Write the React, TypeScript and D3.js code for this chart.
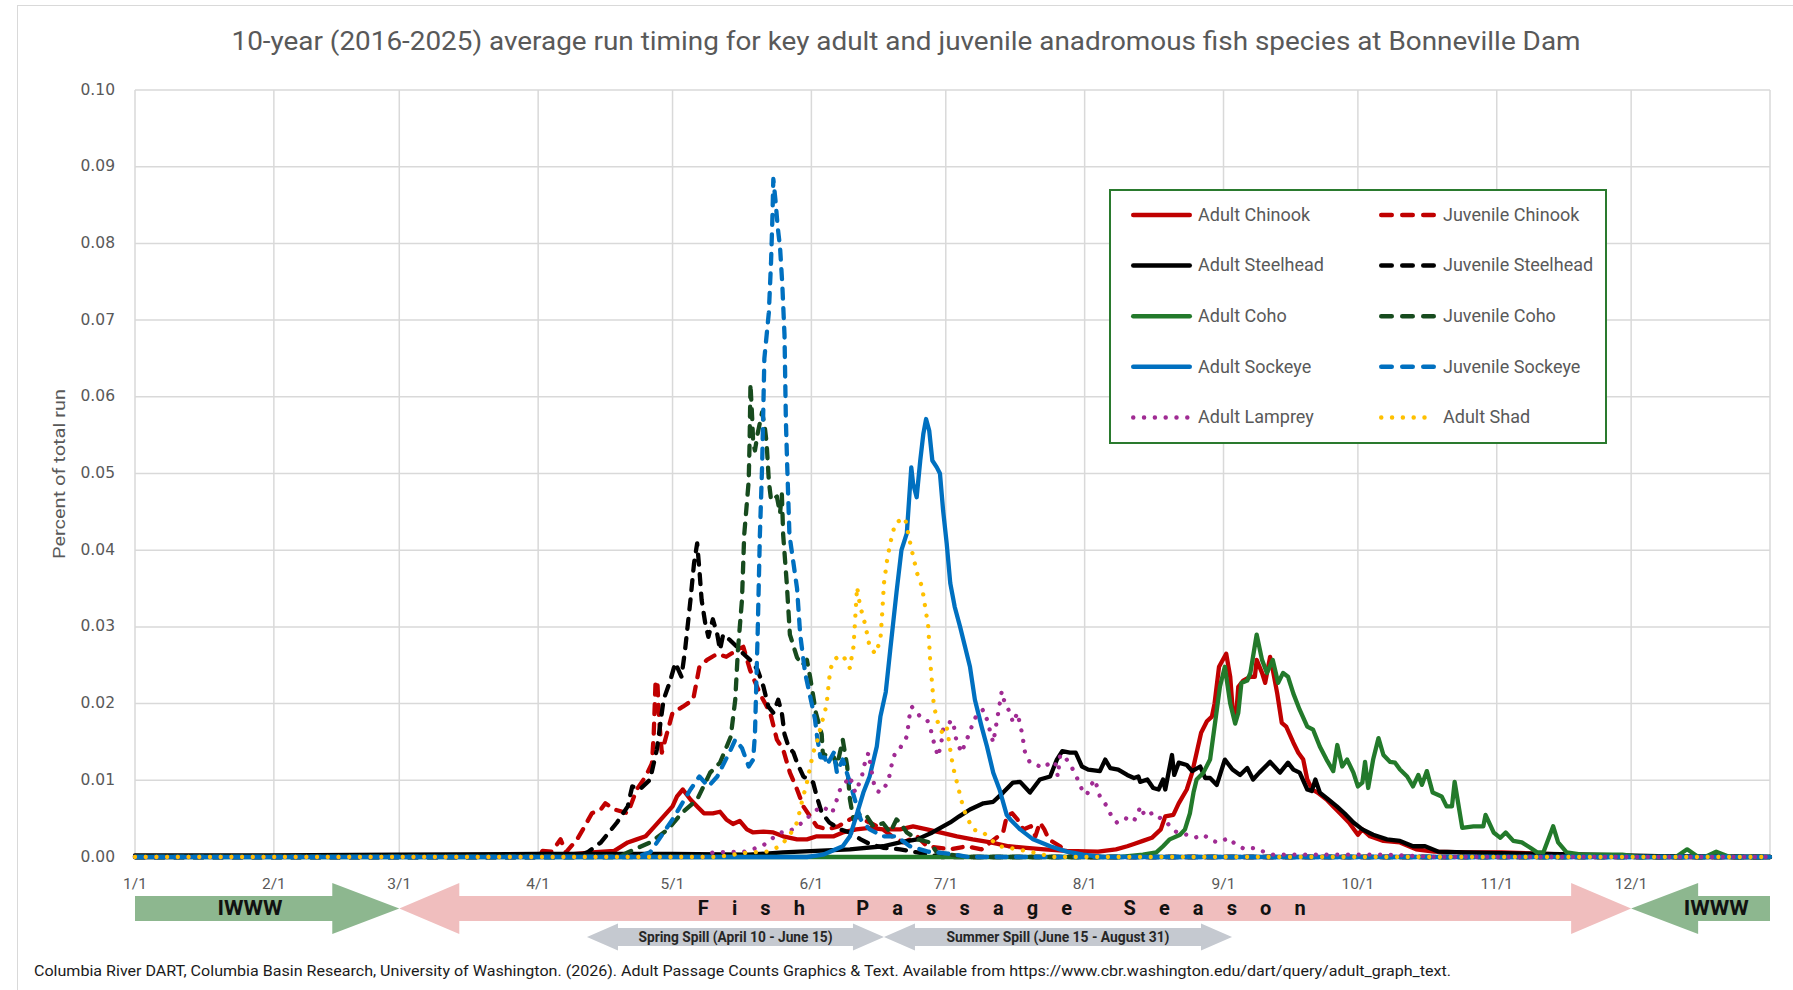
import React from 'react'
import * as d3 from 'd3'

// day-of-year positions of the month ticks (1/1 = day 0)
const monthDays = [0, 31, 59, 90, 120, 151, 181, 212, 243, 273, 304, 334]
const monthLabels = ['1/1', '2/1', '3/1', '4/1', '5/1', '6/1', '7/1', '8/1', '9/1', '10/1', '11/1', '12/1']
const yTicks = [0, 0.01, 0.02, 0.03, 0.04, 0.05, 0.06, 0.07, 0.08, 0.09, 0.1]

// [day of year, share of total run]
const adultChinook = [[0,0],[60,0.0001],[95,0.0002],[102,0.0006],[107,0.0008],[110,0.0019],[112,0.0023],[114,0.0027],[116,0.004],[118,0.0053],[120,0.0066],[121,0.0079],[122.3,0.0088],[124,0.0075],[125.5,0.0066],[127,0.0057],[129,0.0057],[130.6,0.0059],[132,0.0049],[133.5,0.0043],[135,0.0047],[136.6,0.0036],[138,0.0032],[140.3,0.0033],[142.5,0.0032],[144.7,0.0027],[147.8,0.0023],[150,0.0023],[152.2,0.0027],[156,0.0027],[158,0.0032],[161,0.0036],[164,0.0038],[167,0.0036],[170.8,0.0036],[173.7,0.004],[176.8,0.0036],[179.7,0.0032],[183.5,0.0027],[187,0.0023],[191,0.0019],[195,0.0014],[199,0.0012],[203,0.001],[208,0.0008],[215,0.0007],[219,0.001],[221.5,0.0014],[223,0.0017],[225,0.0021],[227,0.0025],[229,0.0036],[230,0.0053],[231.8,0.0055],[233,0.007],[234.8,0.0088],[236,0.011],[237,0.0136],[238,0.0162],[239.3,0.0177],[240.4,0.0183],[241,0.02],[242,0.0248],[243.6,0.0265],[244.5,0.0235],[245,0.0196],[245.8,0.0183],[246.3,0.0222],[247.4,0.023],[249,0.0235],[250,0.0235],[250.4,0.0257],[251.6,0.024],[252.3,0.0227],[253.4,0.0261],[254,0.0244],[255,0.0213],[256,0.0175],[257,0.017],[258.6,0.0149],[259.7,0.0136],[260.8,0.0127],[261.7,0.0101],[262.8,0.0088],[264,0.0084],[266,0.0075],[267.5,0.0066],[269,0.0057],[271,0.0045],[273,0.0029],[274,0.0036],[275.7,0.0027],[278.7,0.0021],[282.4,0.0019],[286,0.001],[290,0.0007],[297,0.0006],[305,0.0006],[320,0.0003],[340,0],[365,0]]
const juvenileChinook = [[0,0],[90,0],[91,0.0008],[93,0.0007],[95,0.0023],[96.2,0.0006],[98.7,0.0023],[100,0.0036],[102,0.0057],[104,0.0062],[105,0.007],[107,0.0062],[110,0.0057],[112,0.0088],[114,0.0105],[115.4,0.0122],[115.8,0.016],[116.2,0.0227],[116.6,0.023],[117,0.018],[117.6,0.0136],[118.7,0.016],[120,0.0188],[122.3,0.0196],[124.6,0.0205],[126,0.0248],[127.7,0.0257],[130,0.0265],[132,0.0261],[134.4,0.027],[135.8,0.0274],[137.3,0.0244],[139.5,0.0213],[141.8,0.0188],[143.3,0.0153],[144.7,0.014],[146.2,0.011],[147.8,0.0088],[149.2,0.0066],[150.7,0.0053],[152.2,0.004],[154.5,0.0036],[157,0.004],[159.6,0.0049],[161,0.0053],[164,0.0045],[167,0.0036],[169,0.0027],[171.5,0.0019],[174.6,0.0027],[176.8,0.0014],[182,0.001],[185.7,0.0014],[189,0.001],[193.8,0.0032],[194.6,0.0053],[195.8,0.0057],[197,0.0049],[198.3,0.0036],[200,0.004],[201,0.0027],[202,0.0045],[203,0.0036],[204,0.0023],[206.5,0.0014],[208,0.0007],[212,0],[365,0]]
const adultSteelhead = [[0,0.0002],[30,0.0002],[59,0.0003],[90,0.0004],[120,0.0004],[137,0.0003],[144.7,0.0006],[152,0.0008],[159.6,0.001],[167,0.0014],[170.8,0.0019],[174.6,0.0023],[178,0.0032],[182,0.0045],[184,0.0053],[186.4,0.0062],[189.4,0.007],[191.6,0.0072],[193.8,0.0084],[196,0.0097],[197.6,0.0098],[199.8,0.0084],[202,0.0101],[204.3,0.0105],[205.8,0.0127],[207,0.0138],[208.7,0.0136],[210,0.0136],[211.4,0.0118],[212.8,0.0114],[215.4,0.0112],[216.6,0.0127],[217.7,0.0116],[219.5,0.0114],[221.5,0.0107],[223,0.0103],[224,0.0105],[224.4,0.0098],[226,0.0101],[227.3,0.009],[228.5,0.0088],[229.5,0.0101],[230,0.0088],[231.5,0.0133],[232,0.0107],[233,0.0123],[234.8,0.012],[236,0.0112],[237.8,0.0118],[238.9,0.0103],[240,0.0103],[241.5,0.0094],[243.3,0.0127],[245,0.0114],[246.7,0.0107],[248.3,0.0116],[249.6,0.0101],[251,0.011],[253.4,0.0124],[255.6,0.011],[257.4,0.0123],[258.6,0.0114],[260,0.011],[261.7,0.0088],[262.7,0.0086],[263.5,0.0101],[264.5,0.0084],[266.4,0.0075],[268.3,0.0066],[270,0.0057],[272,0.0045],[274,0.0036],[276.4,0.0029],[279.5,0.0023],[282.4,0.0021],[285.3,0.0014],[288,0.0014],[291,0.0007],[297,0.0006],[305,0.0005],[315,0.0004],[325,0.0003],[340,0.0001],[365,0]]
const juvenileSteelhead = [[0,0],[98,0],[101,0.0006],[104,0.0019],[107.6,0.0045],[110,0.0066],[111,0.0092],[112.7,0.0088],[115,0.0101],[116.5,0.014],[118,0.0205],[119.5,0.023],[120.6,0.0253],[122,0.0235],[122.8,0.027],[124,0.0335],[124.8,0.0383],[125.5,0.0409],[126,0.0374],[126.5,0.0335],[127.3,0.0305],[128,0.0287],[129,0.031],[130,0.029],[130.6,0.027],[131.3,0.029],[132.8,0.0283],[134.4,0.0274],[135.8,0.0265],[137.3,0.0257],[139,0.0244],[140.3,0.0222],[141.4,0.0196],[142.5,0.0188],[143.6,0.0205],[144.4,0.0188],[145,0.016],[145.9,0.0144],[147,0.0136],[147.8,0.0123],[149.2,0.0105],[150.3,0.0101],[151.4,0.0097],[152.2,0.0079],[153.3,0.0058],[155,0.0045],[157.4,0.0036],[159.6,0.0032],[162,0.0023],[164,0.0017],[167,0.0012],[170.8,0.001],[174.6,0.0006],[180,0],[365,0]]
const adultCoho = [[0,0],[220,0],[225,0.0003],[228,0.0006],[229.5,0.0014],[231,0.0023],[233.3,0.0029],[234.4,0.0036],[235.5,0.0057],[236.3,0.0084],[237,0.0101],[238.5,0.011],[240,0.0127],[241,0.017],[242.2,0.0222],[243.3,0.0248],[244.5,0.02],[245.6,0.0174],[246.3,0.0188],[247,0.0227],[248.3,0.023],[249,0.024],[250.4,0.029],[251.6,0.0257],[252.7,0.024],[254,0.0257],[255.2,0.0227],[256.3,0.024],[257.4,0.0235],[258.6,0.0213],[260,0.0192],[261.7,0.017],[263,0.0166],[264.5,0.0144],[266,0.0127],[267.5,0.0112],[268.4,0.0146],[269.5,0.0118],[270.6,0.0127],[272,0.011],[273,0.0092],[274,0.0097],[274.6,0.0124],[275.3,0.009],[276.4,0.0127],[277.6,0.0155],[278.7,0.0133],[280.2,0.0124],[281.3,0.0123],[282.4,0.0114],[284,0.0105],[285.3,0.0092],[286.5,0.0107],[287.3,0.0094],[288.4,0.0112],[289.7,0.0084],[291.7,0.0079],[292.8,0.0066],[294,0.0066],[294.6,0.0098],[296.3,0.0038],[298.8,0.004],[301,0.004],[301.5,0.0055],[303.3,0.0032],[304.8,0.0025],[306,0.0032],[307.7,0.0021],[309.6,0.0019],[311.5,0.0012],[313,0.0006],[314.4,0.0006],[316.6,0.004],[317.7,0.0019],[319.6,0.0006],[323,0.0003],[332,0.0003],[336,0],[344,0],[346.5,0.001],[349,0],[350.5,0],[353,0.0007],[356,0],[365,0]]
const juvenileCoho = [[0,0],[108,0],[110,0.0006],[115,0.0019],[119,0.0036],[122,0.0057],[125.5,0.0075],[128.4,0.011],[130.6,0.0123],[133,0.0157],[134,0.0205],[134.6,0.027],[135.5,0.0335],[136,0.042],[137,0.049],[137.2,0.054],[137.4,0.0617],[137.8,0.057],[138,0.054],[138.4,0.053],[139,0.0552],[140,0.058],[140.6,0.056],[141,0.054],[141.5,0.049],[142,0.0465],[143.3,0.047],[144,0.0448],[144.4,0.0474],[144.7,0.042],[145.5,0.0357],[146.2,0.029],[147.8,0.026],[149,0.025],[150,0.0257],[150.7,0.0235],[151.4,0.021],[152,0.0188],[153.3,0.016],[153.6,0.013],[154.5,0.0136],[156,0.013],[156.7,0.0118],[158,0.0153],[159,0.0118],[159.6,0.0075],[160.4,0.0049],[162,0.0057],[163.4,0.0053],[164.8,0.004],[167,0.0044],[168.6,0.0032],[170,0.0049],[171,0.0043],[172.3,0.0032],[174.6,0.0023],[177.5,0.0019],[179,0.0006],[182,0.0003],[186,0],[365,0]]
const adultSockeye = [[0,0],[150,0],[153.6,0.0003],[158,0.0014],[159.6,0.0027],[161,0.0053],[162.6,0.0084],[164,0.0105],[165.6,0.0144],[166.4,0.0183],[167.6,0.0215],[168.6,0.027],[170,0.0345],[171.1,0.04],[172.3,0.0422],[172.8,0.0465],[173.3,0.0508],[173.7,0.0487],[174.5,0.0469],[175.3,0.0517],[176,0.0552],[176.6,0.0571],[177.3,0.0556],[178,0.0517],[179,0.0508],[179.7,0.05],[180.4,0.0452],[181.2,0.0409],[182,0.0357],[183,0.0326],[184.2,0.03],[185.3,0.0274],[186.4,0.0248],[187.5,0.0205],[189,0.017],[190.2,0.0144],[191.6,0.011],[193,0.0088],[194.6,0.0055],[195.4,0.0049],[197.6,0.0036],[200.5,0.0023],[204.3,0.0014],[208,0.0007],[211.7,0.0003],[216,0],[365,0]]
const juvenileSockeye = [[0,0],[112,0],[115,0.0006],[120,0.0049],[124,0.0088],[126,0.0105],[128,0.0092],[130,0.0105],[133,0.014],[134,0.0153],[135.5,0.0142],[137,0.0118],[138,0.0127],[138.4,0.016],[139,0.029],[139.5,0.042],[140,0.051],[140.5,0.065],[141,0.068],[141.5,0.071],[142,0.0777],[142.3,0.0834],[142.5,0.0884],[143,0.0855],[143.5,0.082],[144,0.0795],[144.5,0.0747],[145,0.068],[145.3,0.057],[145.6,0.051],[146.1,0.042],[147.8,0.035],[148.5,0.029],[149.6,0.024],[150.7,0.021],[151.8,0.018],[152.2,0.016],[153,0.013],[154,0.013],[154.5,0.012],[156,0.0136],[156.7,0.011],[158,0.0127],[159.6,0.0097],[162,0.0049],[164,0.0036],[167,0.0027],[170,0.0027],[173,0.0014],[177,0.0007],[182,0.0004],[186,0],[365,0]]
const adultLamprey = [[0,0],[127,0],[129,0.0006],[136,0.0007],[140,0.0014],[144,0.0032],[146,0.0033],[149,0.0045],[151.4,0.0058],[153.3,0.0066],[154.5,0.0062],[155.6,0.0057],[156.7,0.0075],[157.4,0.0088],[158,0.0092],[159.6,0.0105],[160.8,0.0084],[162.3,0.0105],[162.6,0.0118],[163.4,0.0127],[163.7,0.0136],[164.5,0.011],[165.2,0.0088],[166.4,0.0084],[167,0.0088],[168,0.0097],[168.6,0.011],[169,0.0123],[169.7,0.0136],[170.8,0.0142],[172.3,0.0157],[173,0.0188],[173.4,0.0196],[174.6,0.0188],[175.3,0.0183],[176.8,0.0179],[177.5,0.017],[178,0.0157],[178.6,0.0144],[179.3,0.0131],[180.1,0.0153],[180.4,0.0166],[181.5,0.017],[182,0.0177],[182.7,0.0177],[183,0.0162],[183.5,0.0149],[184.6,0.0136],[185.3,0.0149],[186.4,0.0162],[187,0.0175],[188.2,0.0188],[189.4,0.0192],[190.2,0.0179],[190.8,0.0166],[191.6,0.0149],[192.7,0.0188],[193.5,0.0216],[194.2,0.02],[195.4,0.0188],[196,0.0175],[197,0.0188],[198,0.0162],[198.7,0.0136],[199.8,0.0123],[201.3,0.012],[202.7,0.0116],[204.3,0.0123],[205.4,0.0124],[206,0.0105],[206.5,0.0131],[207.2,0.0134],[208,0.0127],[209.2,0.0116],[210.3,0.0103],[211.4,0.0088],[212.5,0.0081],[213.2,0.0092],[214.3,0.0101],[215.4,0.0079],[217,0.0066],[218,0.0053],[219.2,0.0045],[221,0.0051],[222.9,0.0046],[224,0.0058],[224.4,0.0066],[225.5,0.0053],[227.3,0.0058],[228.8,0.0051],[230.4,0.0045],[231,0.004],[232.6,0.0032],[234.8,0.0029],[236.6,0.0025],[238.5,0.0029],[240.4,0.0021],[242.2,0.0019],[244,0.0025],[245.6,0.0017],[247.8,0.001],[250,0.0012],[252.3,0.0006],[254,0.0003],[280,0.0003],[290,0],[365,0]]
const adultShad = [[0,0],[130,0],[137,0.0006],[141,0.0007],[144,0.0014],[146,0.0027],[147.8,0.0045],[149,0.0075],[150,0.0097],[151.4,0.0136],[152.2,0.0149],[153.3,0.0175],[154,0.0188],[154.5,0.0205],[154.8,0.0222],[155.2,0.0244],[156,0.0257],[157,0.0261],[158,0.0263],[159,0.0253],[159.6,0.0246],[160,0.0261],[160.4,0.0274],[160.8,0.0313],[161.2,0.0352],[161.9,0.0326],[162.6,0.0313],[163.4,0.0292],[164,0.0274],[165.3,0.0265],[166.4,0.0283],[166.8,0.0317],[167.2,0.0357],[167.9,0.0387],[168.6,0.0409],[169.7,0.0435],[170.8,0.0439],[171.9,0.0442],[172.6,0.0422],[173.4,0.04],[174.6,0.037],[175.7,0.0352],[176.4,0.0326],[177.1,0.03],[177.5,0.0257],[178,0.0222],[178.3,0.02],[179,0.0179],[180.2,0.0162],[181.2,0.017],[182,0.014],[182.6,0.0118],[183.5,0.0097],[185,0.0062],[187,0.0036],[189.4,0.0032],[191,0.0023],[193,0.0014],[197,0.001],[200.5,0.0006],[205,0],[365,0]]

// legend order (row by row) is also the drawing order
const series = [
  { name: 'Adult Chinook', data: adultChinook, color: '#C00000', style: 'solid' },
  { name: 'Juvenile Chinook', data: juvenileChinook, color: '#C00000', style: 'dash' },
  { name: 'Adult Steelhead', data: adultSteelhead, color: '#000000', style: 'solid' },
  { name: 'Juvenile Steelhead', data: juvenileSteelhead, color: '#000000', style: 'dash' },
  { name: 'Adult Coho', data: adultCoho, color: '#237A2B', style: 'solid' },
  { name: 'Juvenile Coho', data: juvenileCoho, color: '#174B1E', style: 'dash' },
  { name: 'Adult Sockeye', data: adultSockeye, color: '#0070C0', style: 'solid' },
  { name: 'Juvenile Sockeye', data: juvenileSockeye, color: '#0070C0', style: 'dash' },
  { name: 'Adult Lamprey', data: adultLamprey, color: '#A02B93', style: 'dot' },
  { name: 'Adult Shad', data: adultShad, color: '#FFC000', style: 'dot' },
]

// season arrows under the axis, in days of year
const seasonBands = [
  { label: 'IWWW', start: 0, end: 59, head: 'right', color: '#8DB78F', labelAt: 25.7 },
  { label: 'Fish Passage Season', start: 59, end: 334, head: 'both', color: '#F0BEBE', labelAt: 193.5 },
  { label: 'IWWW', start: 334, end: 365, head: 'left', color: '#8DB78F', labelAt: 353 },
]
const spillBands = [
  { label: 'Spring Spill (April 10 - June 15)', start: 100.9, end: 167.2, len: 194 },
  { label: 'Summer Spill (June 15 - August 31)', start: 167.2, end: 244.9, len: 223 },
]

const W = 1793
const H = 990
const plot = { left: 135, right: 1770, top: 90, bottom: 857 }
const grid = '#d9d9d9'
const gray = '#595959'
const narrow = "'Liberation Sans Narrow', Roboto, sans-serif"

function arrowPoints(x0, x1, cy, b, hh, hl, head) {
  let p
  if (head === 'right') {
    p = [[x0, cy - b], [x1 - hl, cy - b], [x1 - hl, cy - hh], [x1, cy], [x1 - hl, cy + hh], [x1 - hl, cy + b], [x0, cy + b]]
  } else if (head === 'left') {
    p = [[x1, cy - b], [x0 + hl, cy - b], [x0 + hl, cy - hh], [x0, cy], [x0 + hl, cy + hh], [x0 + hl, cy + b], [x1, cy + b]]
  } else {
    p = [[x0, cy], [x0 + hl, cy - hh], [x0 + hl, cy - b], [x1 - hl, cy - b], [x1 - hl, cy - hh], [x1, cy],
      [x1 - hl, cy + hh], [x1 - hl, cy + b], [x0 + hl, cy + b], [x0 + hl, cy + hh]]
  }
  return p.map(d => d.join(',')).join(' ')
}

function dashOf(style, legend) {
  if (style === 'dash') return legend ? '10.5 10.5' : '10 9.5'
  if (style === 'dot') return legend ? '0.01 10.8' : '0.01 10.7'
  return undefined
}

export default function App() {
  const x = d3.scaleLinear().domain([0, 365]).range([plot.left, plot.right])
  const y = d3.scaleLinear().domain([0, 0.1]).range([plot.bottom, plot.top])
  const line = d3.line().x(d => x(d[0])).y(d => y(d[1]))

  const legendX = [1131, 1379]
  const legendY = d3.range(5).map(i => 215 + i * 50.6)

  return (
    <svg width={W} height={H} style={{ position: 'fixed', left: 0, top: 0, background: '#fff' }}>
      <rect x={17.5} y={5.5} width={W} height={H} fill="#fff" stroke={grid} strokeWidth={1} />

      <text x={906} y={43} textAnchor="middle" dominantBaseline="middle" fontFamily={narrow} fontSize={25}
        fill={gray} textLength={1349} lengthAdjust="spacingAndGlyphs">
        10-year (2016-2025) average run timing for key adult and juvenile anadromous fish species at Bonneville Dam
      </text>

      {/* grid */}
      {yTicks.map(t => (
        <line key={'h' + t} x1={plot.left} x2={plot.right} y1={y(t)} y2={y(t)} stroke={grid} strokeWidth={1.5} />
      ))}
      {monthDays.concat([365]).map(d => (
        <line key={'v' + d} x1={x(d)} x2={x(d)} y1={plot.top} y2={plot.bottom} stroke={grid} strokeWidth={1.5} />
      ))}

      {yTicks.map(t => (
        <text key={'yl' + t} x={115} y={y(t)} textAnchor="end" dominantBaseline="middle"
          fontFamily="'DejaVu Sans', sans-serif" fontSize={15.5} fill={gray}>{t.toFixed(2)}</text>
      ))}
      <text transform={`translate(61,474) rotate(-90)`} textAnchor="middle" dominantBaseline="middle"
        fontFamily={narrow} fontSize={17} fill={gray} textLength={170} lengthAdjust="spacingAndGlyphs">
        Percent of total run
      </text>
      {monthDays.map((d, i) => (
        <text key={'xl' + d} x={x(d)} y={885} textAnchor="middle" dominantBaseline="middle"
          fontFamily={narrow} fontSize={15.5} fill={gray}>{monthLabels[i]}</text>
      ))}

      {/* series */}
      <g fill="none" strokeLinecap="round" strokeLinejoin="round">
        {series.map(s => (
          <path key={s.name} d={line(s.data)} stroke={s.color} strokeWidth={4.3}
            strokeDasharray={dashOf(s.style, false)} />
        ))}
      </g>

      {/* legend */}
      <rect x={1110} y={190} width={496} height={253} fill="#fff" stroke="#2A7A2E" strokeWidth={2} />
      {series.map((s, i) => {
        const lx = legendX[i % 2]
        const ly = legendY[Math.floor(i / 2)]
        const len = i % 2 === 0 ? 61 : 58
        return (
          <g key={'lg' + s.name}>
            <line x1={lx + 2.25} x2={lx + len - 2.25} y1={ly} y2={ly} stroke={s.color} strokeWidth={4.5}
              strokeLinecap="round" strokeDasharray={dashOf(s.style, true)} />
            <text x={lx + len + 6} y={ly + 1} dominantBaseline="middle" fontFamily="Roboto, sans-serif"
              fontSize={18} fill={gray}>{s.name}</text>
          </g>
        )
      })}

      {/* season arrows */}
      {seasonBands.map((b, i) => (
        <polygon key={'sb' + i} fill={b.color}
          points={arrowPoints(x(b.start), x(b.end), 908.5, 12.5, 25.5, b.head === 'both' ? 60 : 67, b.head)} />
      ))}
      {seasonBands.map((b, i) => b.label === 'IWWW' ? (
        <text key={'st' + i} x={x(b.labelAt)} y={909} textAnchor="middle" dominantBaseline="middle"
          fontFamily={narrow} fontWeight="bold" fontSize={21} fill="#111" textLength={65}
          lengthAdjust="spacingAndGlyphs">{b.label}</text>
      ) : (
        <text key={'st' + i} x={x(b.labelAt)} y={910} textAnchor="middle" dominantBaseline="middle"
          fontFamily={narrow} fontWeight="bold" fontSize={20} fill="#111" textLength={608}
          lengthAdjust="spacing" style={{ whiteSpace: 'pre' }}>{b.label.split('').join(' ')}</text>
      ))}

      {spillBands.map((b, i) => (
        <g key={'sp' + i}>
          <polygon fill="#C5C9D0" points={arrowPoints(x(b.start), x(b.end), 937, 9, 13.5, 31, 'both')} />
          <text x={(x(b.start) + x(b.end)) / 2} y={938} textAnchor="middle" dominantBaseline="middle"
            fontFamily={narrow} fontWeight="bold" fontSize={14} fill="#262626" textLength={b.len}
            lengthAdjust="spacingAndGlyphs">{b.label}</text>
        </g>
      ))}

      <text x={34} y={972} dominantBaseline="middle" fontFamily={narrow} fontSize={15} fill="#1a1a1a"
        textLength={1417} lengthAdjust="spacingAndGlyphs">
        Columbia River DART, Columbia Basin Research, University of Washington. (2026). Adult Passage Counts Graphics &amp; Text. Available from https://www.cbr.washington.edu/dart/query/adult_graph_text.
      </text>
    </svg>
  )
}
